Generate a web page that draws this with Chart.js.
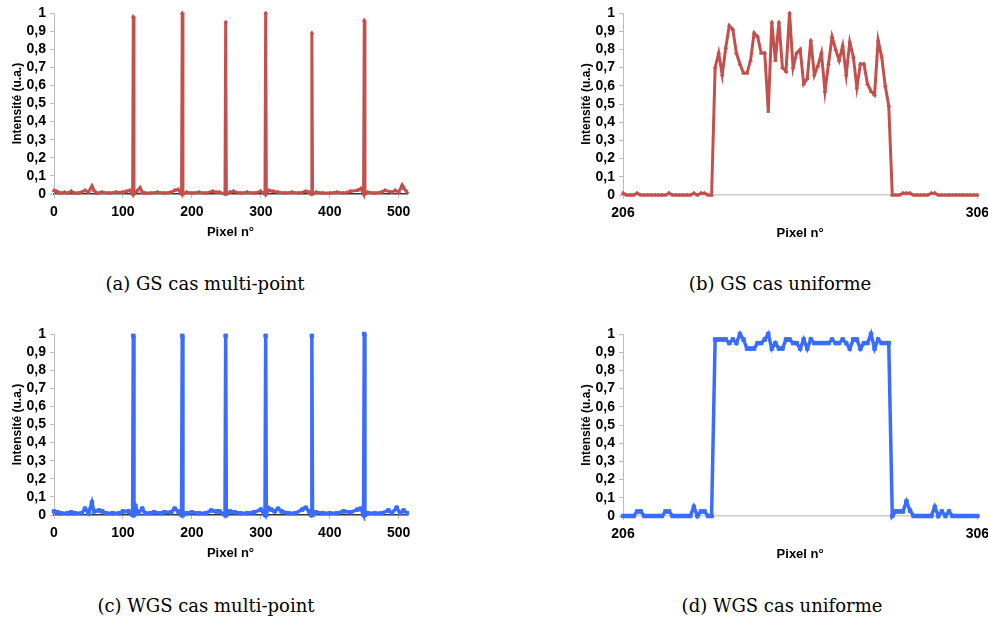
<!DOCTYPE html>
<html>
<head>
<meta charset="utf-8">
<script src="https://cdn.jsdelivr.net/npm/chart.js@4.4.1/dist/chart.umd.min.js"></script>
<style>
    body { margin: 0; background: #fff; width: 988px; height: 619px; position: relative; overflow: hidden; }
    .panel { position: absolute; }
    .caption { position: absolute; width: 400px; text-align: center; font-family: "DejaVu Serif", serif; font-size: 18px; color: #000; }
</style>
</head>
<body>
<div class="panel" style="left:0px; top:0px;"><canvas id="chartA" width="420" height="240"></canvas></div>
<div class="panel" style="left:569px; top:0px;"><canvas id="chartB" width="426" height="241"></canvas></div>
<div class="panel" style="left:0px; top:321px;"><canvas id="chartC" width="420" height="240"></canvas></div>
<div class="panel" style="left:569px; top:321px;"><canvas id="chartD" width="426" height="241"></canvas></div>
<div class="caption" style="left:5px; top:273px;">(a) GS cas multi-point</div>
<div class="caption" style="left:580px; top:273px;">(b) GS cas uniforme</div>
<div class="caption" style="left:6px; top:595px;">(c) WGS cas multi-point</div>
<div class="caption" style="left:582px; top:595px;">(d) WGS cas uniforme</div>
<script>
/*--------------------DATA--------------------*/
let yTickValues = [0, 0.1, 0.2, 0.3, 0.4, 0.5, 0.6, 0.7, 0.8, 0.9, 1];
let yTickLabels = ['0', '0,1', '0,2', '0,3', '0,4', '0,5', '0,6', '0,7', '0,8', '0,9', '1'];
let xTicksMulti = [0, 100, 200, 300, 400, 500];
let xTicksUniform = [206, 306];

// (a) GS cas multi-point
let pixelsA = [0, 3, 6, 10, 15, 20, 25, 30, 35, 40, 45, 50, 55, 58, 62, 70, 80, 90, 100, 105, 110,
    114, 115, 116, 120, 125, 128, 132, 140, 150, 160, 170, 175, 180, 185, 186, 187, 192, 200, 210,
    220, 230, 235, 240, 248, 249, 250, 255, 260, 270, 280, 290, 300, 306, 307, 308, 312, 318, 325,
    335, 345, 355, 365, 370, 373, 374, 375, 380, 390, 400, 410, 420, 430, 440, 445, 449, 450, 451,
    455, 465, 475, 480, 490, 495, 500, 505, 508, 512];
let intensityA = [0.02, 0.015, 0.01, 0.005, 0.01, 0.005, 0.015, 0.005, 0.005, 0.01, 0.02, 0.01, 0.045, 0.02, 0.005, 0.01, 0.005, 0.01, 0.01, 0.015, 0.02,
    0, 0.98, 0, 0.015, 0.035, 0.01, 0.005, 0.005, 0.01, 0.005, 0.01, 0.02, 0.025, 0, 1.0, 0, 0.01, 0.005, 0.01,
    0.005, 0.015, 0.01, 0.01, 0, 0.95, 0, 0.01, 0.015, 0.005, 0.01, 0.005, 0.015, 0, 1.0, 0, 0.02, 0.015, 0.01,
    0.005, 0.01, 0.005, 0.015, 0.01, 0, 0.89, 0, 0.01, 0.005, 0.005, 0.01, 0.005, 0.015, 0.02, 0.03, 0, 0.96, 0,
    0.01, 0.005, 0.01, 0.02, 0.01, 0.02, 0.01, 0.05, 0.03, 0.01];

// (b) GS cas uniforme, one value per pixel from 206 to 306
let startPixelB = 206;
let intensityB = [
    0.01, 0, 0, 0, 0.01, 0, 0, 0, 0, 0,
    0, 0, 0, 0.01, 0, 0, 0, 0, 0, 0,
    0.01, 0, 0.01, 0.01, 0, 0, 0.70, 0.78, 0.66, 0.81,
    0.93, 0.91, 0.78, 0.72, 0.67, 0.67, 0.74, 0.89, 0.87, 0.78,
    0.78, 0.46, 0.95, 0.74, 0.95, 0.70, 0.68, 1.00, 0.70, 0.78,
    0.80, 0.61, 0.64, 0.85, 0.66, 0.71, 0.78, 0.57, 0.72, 0.87,
    0.80, 0.74, 0.82, 0.66, 0.84, 0.76, 0.59, 0.72, 0.72, 0.61,
    0.57, 0.55, 0.85, 0.76, 0.60, 0.49, 0, 0, 0, 0.01,
    0.01, 0.01, 0, 0, 0, 0, 0, 0.01, 0.01, 0,
    0, 0, 0, 0, 0, 0, 0, 0, 0, 0,
    0];

// (c) WGS cas multi-point
let pixelsC = [0, 5, 10, 20, 25, 30, 40, 45, 50, 55, 58, 65, 70, 75, 85, 95, 100, 108, 114, 115, 116,
    118, 122, 128, 132, 140, 145, 155, 160, 170, 175, 180, 185, 186, 187, 192, 200, 210, 220, 228,
    235, 240, 248, 249, 250, 255, 262, 270, 280, 290, 300, 306, 307, 308, 310, 315, 320, 325, 330,
    340, 350, 360, 365, 370, 373, 374, 375, 380, 390, 400, 410, 420, 430, 440, 445, 449, 450, 451,
    455, 465, 475, 485, 490, 497, 502, 507, 512];
let intensityC = [0.02, 0.015, 0.01, 0.01, 0.015, 0.01, 0.01, 0.035, 0.01, 0.07, 0.02, 0.025, 0.02, 0.01, 0.01, 0.01, 0.02, 0.02, 0, 0.99, 0,
    0.05, 0.01, 0.035, 0.01, 0.01, 0.015, 0.01, 0.015, 0.015, 0.035, 0.02, 0, 0.99, 0, 0.01, 0.015, 0.01, 0.01, 0.025,
    0.02, 0.02, 0, 0.99, 0, 0.02, 0.015, 0.01, 0.01, 0.015, 0.03, 0, 0.99, 0, 0.04, 0.03, 0.02, 0.035, 0.02,
    0.01, 0.01, 0.03, 0.04, 0.02, 0, 0.99, 0, 0.015, 0.01, 0.01, 0.01, 0.02, 0.015, 0.03, 0.035, 0, 1.0, 0,
    0.01, 0.01, 0.01, 0.025, 0.01, 0.04, 0.01, 0.025, 0.01];

// (d) WGS cas uniforme, one value per pixel from 206 to 306
let startPixelD = 206;
let intensityD = [
    0, 0, 0, 0, 0.025, 0.025, 0, 0, 0, 0,
    0, 0, 0.025, 0.025, 0, 0, 0, 0, 0, 0,
    0.05, 0, 0.025, 0.025, 0, 0, 0.97, 0.97, 0.97, 0.97,
    0.95, 0.97, 0.95, 1.00, 0.97, 0.92, 0.92, 0.92, 0.95, 0.95,
    0.97, 1.00, 0.92, 0.95, 0.92, 0.92, 0.97, 0.97, 0.95, 0.95,
    0.92, 0.97, 0.92, 0.97, 0.95, 0.95, 0.95, 0.95, 0.95, 0.97,
    0.95, 0.95, 0.97, 0.95, 0.92, 0.97, 0.97, 0.92, 0.95, 0.95,
    1.00, 0.92, 0.97, 0.95, 0.95, 0.95, 0, 0.025, 0.025, 0.025,
    0.08, 0.03, 0, 0, 0, 0, 0, 0, 0.05, 0,
    0.025, 0, 0.025, 0, 0, 0, 0, 0, 0, 0,
    0];

let red = 'rgb(196,80,77)';
let blue = 'rgb(58,108,255)';

/*--------------------METHOD--------------------*/
function pairPoints(xs, ys) {
    return xs.map((x, i) => ({ x: x, y: ys[i] }));
}

function runPoints(start, ys) {
    return ys.map((y, i) => ({ x: start + i, y: y }));
}

function makePanel(canvasId, points, color, style, radius, lineWidth, xMin, xMax, xTicks, axisColor, padRight) {
    let font = { family: '"Liberation Sans", Arial, sans-serif', weight: 'bold', size: 14 };
    return new Chart(document.getElementById(canvasId), {
        type: 'line',
        data: {
            datasets: [
                {
                    data: points,
                    borderColor: color,
                    backgroundColor: color,
                    borderWidth: lineWidth,
                    pointStyle: style,
                    pointRadius: radius,
                    pointBorderWidth: 1,
                    tension: 0,
                    clip: 6
                }
            ]
        },
        options: {
            responsive: false,
            animation: false,
            devicePixelRatio: 1,
            layout: { padding: { left: 6, top: 13, right: padRight, bottom: 0 } },
            plugins: { legend: { display: false }, tooltip: { enabled: false } },
            scales: {
                x: {
                    type: 'linear',
                    min: xMin,
                    max: xMax,
                    afterBuildTicks: (s) => { s.ticks = xTicks.map((v) => ({ value: v })); },
                    afterFit: (s) => { s.height = 46; },
                    ticks: { font: font, color: '#000', maxRotation: 0, autoSkip: false, padding: 6 },
                    grid: { drawOnChartArea: false, tickLength: 4, color: '#bbb' },
                    border: { color: axisColor, width: 1.5 },
                    title: {
                        display: true,
                        text: 'Pixel n°',
                        color: '#000',
                        font: { family: '"Liberation Sans", Arial, sans-serif', weight: 'bold', size: 13 },
                        padding: { top: 0, bottom: 0 }
                    }
                },
                y: {
                    min: 0,
                    max: 1,
                    afterBuildTicks: (s) => { s.ticks = yTickValues.map((v) => ({ value: v })); },
                    afterFit: (s) => { s.width = 48; },
                    ticks: { font: font, color: '#000', padding: 4, autoSkip: false, callback: (v, i) => yTickLabels[i] },
                    grid: { drawOnChartArea: false, tickLength: 4, color: '#bbb' },
                    border: { color: '#bbb' },
                    title: {
                        display: true,
                        text: 'Intensité (u.a.)',
                        color: '#000',
                        font: { family: '"Liberation Sans", Arial, sans-serif', weight: 'bold', size: 12 },
                        padding: { top: 4, bottom: 4 }
                    }
                }
            }
        }
    });
}

/*--------------------CHARTS--------------------*/
let chartA = makePanel('chartA', pairPoints(pixelsA, intensityA), red, 'triangle', 2, 3, 0, 512, xTicksMulti, '#333', 13);
let chartB = makePanel('chartB', runPoints(startPixelB, intensityB), red, 'triangle', 2, 3, 206, 306, xTicksUniform, '#ccc', 0);
let chartC = makePanel('chartC', pairPoints(pixelsC, intensityC), blue, 'rect', 2.5, 3.5, 0, 512, xTicksMulti, '#333', 13);
let chartD = makePanel('chartD', runPoints(startPixelD, intensityD), blue, 'rect', 2.5, 3.5, 206, 306, xTicksUniform, '#ccc', 0);
</script>
</body>
</html>
